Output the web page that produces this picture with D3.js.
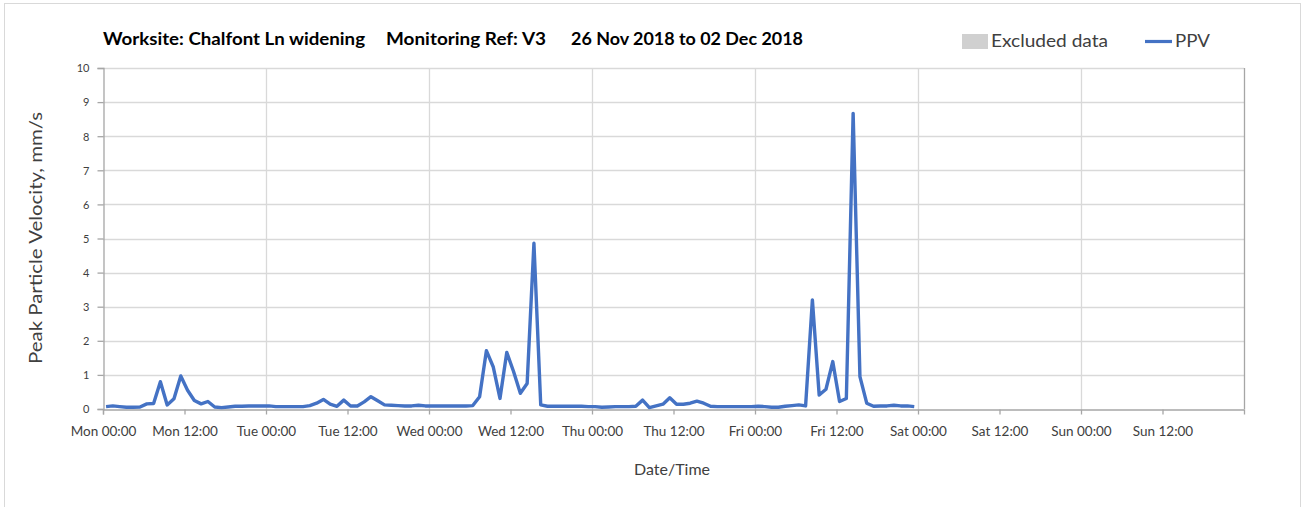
<!DOCTYPE html>
<html><head><meta charset="utf-8">
<script src="https://cdn.jsdelivr.net/npm/d3@7"></script>
<style>
html,body{margin:0;padding:0;background:#fff;}
svg{display:block;font-family:Lato,"Open Sans",sans-serif;}
</style></head>
<body>
<svg id="chart" width="1309" height="507"></svg>
<script>
// ---- data ----
const titleParts = ["Worksite: Chalfont Ln widening", "Monitoring Ref: V3", "26 Nov 2018 to 02 Dec 2018"];
const startTime = "2018-11-26T00:27:00";
const stepMinutes = 60;
const ppvValues = [
 0.07,0.09,0.07,0.05,0.05,0.06,0.15,0.16,0.80,0.12,0.30,0.97,0.55,0.25,0.15,0.22,0.06,0.04,0.06,0.08,0.08,0.09,0.09,0.09,
 0.09,0.07,0.07,0.07,0.07,0.07,0.10,0.17,0.28,0.14,0.08,0.26,0.09,0.09,0.21,0.36,0.24,0.12,0.11,0.10,0.09,0.09,0.11,0.09,
 0.09,0.09,0.09,0.09,0.09,0.09,0.10,0.36,1.71,1.24,0.31,1.66,1.10,0.46,0.75,4.86,0.12,0.08,0.08,0.08,0.08,0.08,0.08,0.07,
 0.07,0.05,0.06,0.07,0.07,0.07,0.08,0.26,0.04,0.09,0.14,0.33,0.14,0.14,0.17,0.23,0.17,0.08,0.07,0.07,0.07,0.07,0.07,0.07,
 0.08,0.07,0.05,0.05,0.08,0.10,0.12,0.09,3.20,0.41,0.58,1.39,0.22,0.31,8.67,0.95,0.17,0.08,0.09,0.09,0.11,0.09,0.09,0.07
];
const xDomain = ["2018-11-26T00:00:00", "2018-12-03T00:00:00"];
const yTicks = [0,1,2,3,4,5,6,7,8,9,10];
const xTickLabels = ["Mon 00:00","Mon 12:00","Tue 00:00","Tue 12:00","Wed 00:00","Wed 12:00","Thu 00:00","Thu 12:00","Fri 00:00","Fri 12:00","Sat 00:00","Sat 12:00","Sun 00:00","Sun 12:00"];
const legendLabels = ["Excluded data","PPV"];
const yTitle = "Peak Particle Velocity, mm/s";
const xTitle = "Date/Time";

// ---- build ----
const t0 = new Date(startTime);
const data = ppvValues.map((v,i)=>({t:new Date(t0.getTime()+i*stepMinutes*60000), v}));

const svg = d3.select("#chart");
const m = {left:103, right:1244, top:68, bottom:409};

svg.append("rect").attr("x",4.5).attr("y",3.5).attr("width",1296).attr("height",510)
  .attr("fill","#fff").attr("stroke","#d9d9d9").attr("stroke-width",1);

const x = d3.scaleTime().domain(xDomain.map(d=>new Date(d))).range([m.left,m.right]);
const y = d3.scaleLinear().domain([0,10]).range([m.bottom,m.top]);

const tickTimes = xTickLabels.map((_,i)=>new Date(new Date(xDomain[0]).getTime()+i*12*3600000));
const dayTimes = tickTimes.filter((d,i)=>i%2===0 && i>0);

// horizontal gridlines
svg.append("g").selectAll("line").data(yTicks.filter(d=>d>0)).join("line")
  .attr("x1",m.left).attr("x2",m.right)
  .attr("y1",d=>Math.round(y(d))+0.5).attr("y2",d=>Math.round(y(d))+0.5)
  .attr("stroke","#d9d9d9").attr("stroke-width",1.3);
// vertical gridlines at days
svg.append("g").selectAll("line").data(dayTimes).join("line")
  .attr("x1",d=>Math.round(x(d))+0.5).attr("x2",d=>Math.round(x(d))+0.5)
  .attr("y1",m.top).attr("y2",m.bottom)
  .attr("stroke","#d9d9d9").attr("stroke-width",1.3);
// right border
svg.append("line").attr("x1",m.right+0.5).attr("x2",m.right+0.5).attr("y1",m.top).attr("y2",m.bottom)
  .attr("stroke","#a6a6a6").attr("stroke-width",1.3);

// y axis
const yAxis = d3.axisLeft(y).tickValues(yTicks).tickSize(6).tickPadding(8).tickFormat(d3.format("d"));
const gy = svg.append("g").attr("transform",`translate(${m.left+0.5},0)`).call(yAxis);
gy.select(".domain").attr("stroke","#a6a6a6").attr("stroke-width",1.3);
gy.selectAll(".tick line").attr("stroke","#a6a6a6").attr("stroke-width",1.3);
gy.selectAll(".tick text").attr("fill","#404040").style("font-size","11px").style("font-family","Lato, sans-serif").attr("dy","0.35em");

// x axis
const xAxis = d3.axisBottom(x).tickValues(tickTimes).tickSize(5).tickPadding(12)
  .tickFormat((d,i)=>xTickLabels[i]);
const gx = svg.append("g").attr("transform",`translate(0,${m.bottom+0.5})`).call(xAxis);
gx.select(".domain").attr("stroke","#a6a6a6").attr("stroke-width",1.3);
gx.selectAll(".tick line").attr("stroke","#a6a6a6").attr("stroke-width",1.3);
gx.selectAll(".tick text").attr("fill","#404040").style("font-size","13.5px").style("font-family","Lato, sans-serif");

// line
const line = d3.line().x(d=>x(d.t)).y(d=>y(d.v));
svg.append("path").datum(data).attr("d",line).attr("fill","none")
  .attr("stroke","#4472c4").attr("stroke-width",3.4).attr("stroke-linejoin","round");

// title
const title = svg.append("text").attr("y",45).attr("fill","#000")
  .style("font-size","16.5px").style("font-weight","bold").style("font-family","Lato, sans-serif");
title.append("tspan").attr("x",103).attr("textLength",262).attr("lengthAdjust","spacingAndGlyphs").text(titleParts[0]);
title.append("tspan").attr("x",386).attr("textLength",160).attr("lengthAdjust","spacingAndGlyphs").text(titleParts[1]);
title.append("tspan").attr("x",571).attr("textLength",232).attr("lengthAdjust","spacingAndGlyphs").text(titleParts[2]);

// legend
svg.append("rect").attr("x",962).attr("y",34).attr("width",26).attr("height",15).attr("fill","#d0d0d0");
svg.append("text").attr("x",991).attr("y",47).text(legendLabels[0]).attr("fill","#404040")
  .attr("textLength",117).attr("lengthAdjust","spacingAndGlyphs")
  .style("font-size","17px").style("font-family","Lato, sans-serif");
svg.append("line").attr("x1",1145).attr("x2",1172).attr("y1",41.5).attr("y2",41.5)
  .attr("stroke","#4472c4").attr("stroke-width",3.2);
svg.append("text").attr("x",1175).attr("y",47).text(legendLabels[1]).attr("fill","#404040")
  .attr("textLength",35).attr("lengthAdjust","spacingAndGlyphs")
  .style("font-size","17px").style("font-family","Lato, sans-serif");

// axis titles
svg.append("text").attr("transform","translate(42,238) rotate(-90)").attr("text-anchor","middle")
  .attr("textLength",252).attr("lengthAdjust","spacingAndGlyphs")
  .text(yTitle).attr("fill","#404040").style("font-size","17px").style("font-family","Lato, sans-serif");
svg.append("text").attr("x",672).attr("y",475).attr("text-anchor","middle")
  .text(xTitle).attr("fill","#404040").style("font-size","16px").style("font-family","Lato, sans-serif");
</script>
</body></html>
